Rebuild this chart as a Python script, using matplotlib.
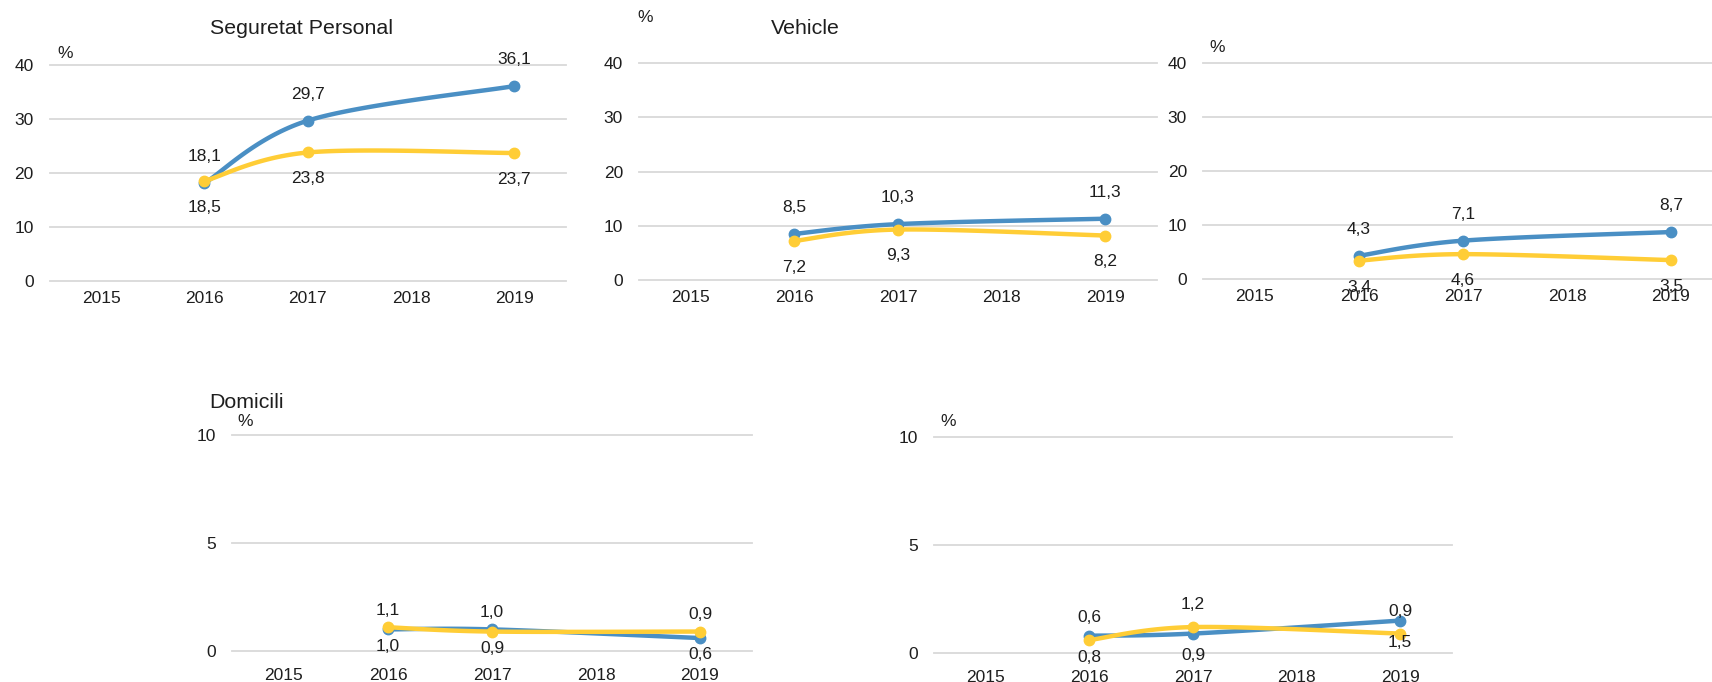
# petits gràfics de línies: percentatges 2016-2019
import numpy as np
import matplotlib.pyplot as plt

plt.rcParams['font.family'] = ['Liberation Sans', 'DejaVu Sans']

W, H = 1712, 682

# categories de l'eix x
years = ['2015', '2016', '2017', '2018', '2019']
# anys amb dada
data_years = ['2016', '2017', '2019']

# sèries (blau / groc)
seg_blue = [18.1, 29.7, 36.1]
seg_yellow = [18.5, 23.8, 23.7]
veh_blue = [8.5, 10.3, 11.3]
veh_yellow = [7.2, 9.3, 8.2]
p3_blue = [4.3, 7.1, 8.7]
p3_yellow = [3.4, 4.6, 3.5]
dom_blue = [1.0, 1.0, 0.6]
dom_yellow = [1.1, 0.9, 0.9]
p5_blue = [0.8, 0.9, 1.5]
p5_yellow = [0.6, 1.2, 0.9]

BLUE = '#4A8FC4'
YELLOW = '#FFCD36'
GRID = '#D9D9D9'
TXT = '#1E1E1E'


def px(x, y):
    # coordenades en píxels -> fracció de figura
    return x / W, 1 - y / H


def smooth(xs, ys, n=40):
    # corba suavitzada tipus Excel (Bezier), només per dibuixar
    pts = np.column_stack([xs, ys]).astype(float)
    out = [pts[0]]
    for i in range(len(pts) - 1):
        p0 = pts[max(i - 1, 0)]
        p1 = pts[i]
        p2 = pts[i + 1]
        p3 = pts[min(i + 2, len(pts) - 1)]
        c1 = p1 + (p2 - p0) / 6
        c2 = p2 - (p3 - p1) / 6
        t = np.linspace(0, 1, n)[1:, None]
        seg = (1 - t)**3 * p1 + 3 * (1 - t)**2 * t * c1 + 3 * (1 - t) * t**2 * c2 + t**3 * p2
        out.extend(seg)
    return np.array(out)


fig = plt.figure(figsize=(W / 100, H / 100), dpi=100)


def panel(x0, x1, y0, y1, ymax, yticks, blue, yellow, blue_side, yellow_side,
          xright=4.5, off=19, xpad=7):
    ax = fig.add_axes([x0 / W, 1 - y1 / H, (x1 - x0) / W, (y1 - y0) / H])
    ax.set_xlim(-0.5, xright)
    ax.set_ylim(0, ymax)
    ax.set_yticks(yticks)
    ax.set_xticks(range(len(years)))
    ax.set_xticklabels(years)
    ax.tick_params(length=0, labelsize=12.5, colors=TXT)
    ax.tick_params(axis='y', pad=11.5)
    ax.tick_params(axis='x', pad=xpad)
    for s in ax.spines.values():
        s.set_visible(False)
    for v in yticks:
        ax.axhline(v, color=GRID, lw=1.3, zorder=0, clip_on=False)
    xs = [years.index(y) for y in data_years]
    for vals, col, side in ((blue, BLUE, blue_side), (yellow, YELLOW, yellow_side)):
        c = smooth(xs, vals)
        ax.plot(c[:, 0], c[:, 1], color=col, lw=3.2, solid_capstyle='round', clip_on=False)
        ax.plot(xs, vals, 'o', color=col, ms=7.5, clip_on=False)
        for x, v, s in zip(xs, vals, side):
            ax.annotate(f'{v:.1f}'.replace('.', ','), (x, v), xytext=(0, off * s),
                        textcoords='offset points', ha='center', va='center',
                        fontsize=12.5, color=TXT, annotation_clip=False)
    return ax


up = [1, 1, 1]
down = [-1, -1, -1]

panel(49.5, 566, 65, 281, 40, [0, 10, 20, 30, 40], seg_blue, seg_yellow, up, down)
panel(639, 1157, 63, 280, 40, [0, 10, 20, 30, 40], veh_blue, veh_yellow, up, down)
panel(1203, 1712, 63, 279, 40, [0, 10, 20, 30, 40], p3_blue, p3_yellow, up, down,
      xright=4.5 - 11 / 104)
panel(232, 752, 435, 651, 10, [0, 5, 10], dom_blue, dom_yellow, [-1, 1, -1], [1, -1, 1],
      off=12, xpad=12)
panel(934, 1452, 437, 653, 10, [0, 5, 10], p5_blue, p5_yellow, down, up,
      off=16, xpad=12)

# títols i unitats
fig.text(*px(301, 29), 'Seguretat Personal', ha='center', va='center', fontsize=15.4, color=TXT)
fig.text(*px(805, 29), 'Vehicle', ha='center', va='center', fontsize=15.4, color=TXT)
fig.text(*px(247, 403), 'Domicili', ha='center', va='center', fontsize=15.4, color=TXT)
for x, y in ((65, 53), (645, 17), (1217, 47), (245, 422), (948, 421)):
    fig.text(*px(x, y), '%', ha='center', va='center', fontsize=12.5, color=TXT)

fig.savefig('out.png', dpi=100, facecolor='white')
